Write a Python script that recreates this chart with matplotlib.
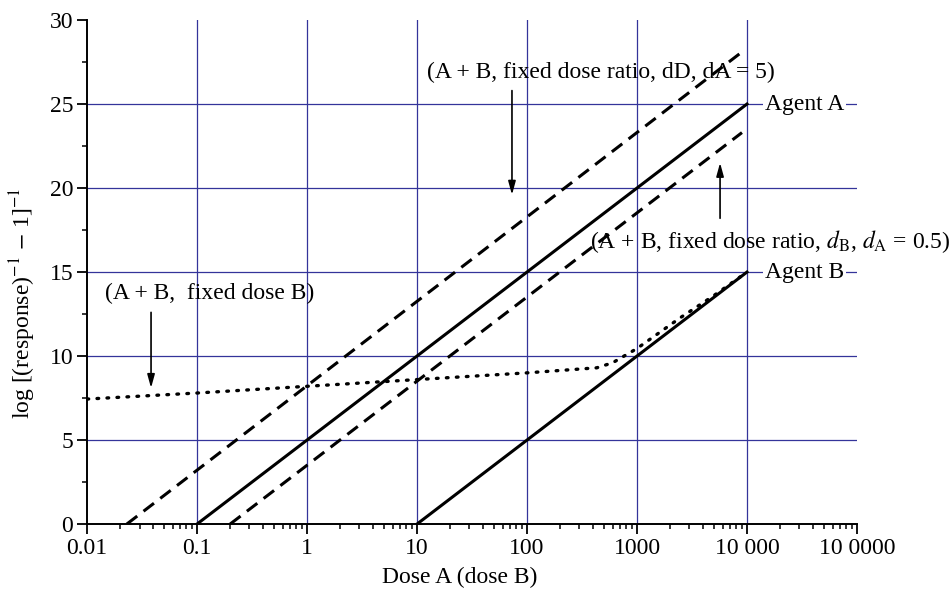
import numpy as np
from matplotlib import pyplot as plt

plt.rcParams['font.family'] = ['Liberation Serif', 'DejaVu Serif']
plt.rcParams['mathtext.fontset'] = 'stix'

# data
agent_a_x = [0.1, 10000]
agent_a_y = [0, 25]
agent_b_x = [10, 10000]
agent_b_y = [0, 15]
ratio5_x = [0.023, 9000]
ratio5_y = [0, 28.1]
ratio05_x = [0.2, 9000]
ratio05_y = [0, 23.3]
fixed_b_x = [0.01, 0.1, 1, 10, 100, 430, 600, 1000, 2500, 5000, 10000]
fixed_b_y = [7.44, 7.8, 8.2, 8.6, 9.0, 9.3, 9.6, 10.45, 12.3, 13.6, 15]

x_ticks = [0.01, 0.1, 1, 10, 100, 1000, 10000, 100000]
x_tick_labels = ['0.01', '0.1', '1', '10', '100', '1000', '10 000', '10 0000']
y_ticks = [0, 5, 10, 15, 20, 25, 30]
grid_x = [0.1, 1, 10, 100, 1000, 10000]
grid_y = [5, 10, 15, 20, 25]

fig = plt.figure(figsize=(9.5, 6.01), dpi=100)
ax = fig.add_axes([0.0916, 0.128, 0.8105, 0.8387])
ax.set_xscale('log')
ax.set_xlim(0.01, 100000)
ax.set_ylim(0, 30)

grid_col = '#34349a'
for gx in grid_x:
    ax.axvline(gx, color=grid_col, lw=0.9, zorder=1)
for gy in grid_y:
    ax.axhline(gy, color=grid_col, lw=0.9, zorder=1)

ax.plot(agent_a_x, agent_a_y, color='black', lw=2.2, zorder=3)
ax.plot(agent_b_x, agent_b_y, color='black', lw=2.2, zorder=3)
ax.plot(ratio5_x, ratio5_y, color='black', lw=2.2, dashes=(4.3, 2.6), zorder=3)
ax.plot(ratio05_x, ratio05_y, color='black', lw=2.2, dashes=(4.3, 2.6), zorder=3)
ax.plot(fixed_b_x, fixed_b_y, color='black', lw=2.4, dashes=(0.5, 2.5),
        dash_capstyle='round', zorder=3)

fs = 17
box = dict(facecolor='white', edgecolor='none', pad=1.5)
ax.text(14500, 25, 'Agent A', fontsize=fs, va='center', ha='left', bbox=box, zorder=4,
        clip_on=False)
ax.text(14500, 15, 'Agent B', fontsize=fs, va='center', ha='left', bbox=box, zorder=4,
        clip_on=False)
ax.text(12.3, 26.9, '(A + B, fixed dose ratio, dD, dA = 5)', fontsize=fs,
        va='center', ha='left', zorder=4)
ax.text(374, 16.8, r'(A + B, fixed dose ratio, $d_{\mathrm{B}}$, $d_{\mathrm{A}}$ = 0.5)',
        fontsize=fs, va='center', ha='left', zorder=4, clip_on=False)
ax.text(0.0146, 13.75, '(A + B,  fixed dose B)', fontsize=fs, va='center', ha='left',
        zorder=4)

arrow = dict(arrowstyle='-|>,head_length=0.8,head_width=0.22', color='black', lw=1.2,
             shrinkA=0, shrinkB=0)
ax.annotate('', xy=(73, 19.6), xytext=(73, 25.8), arrowprops=arrow)
ax.annotate('', xy=(5690, 21.5), xytext=(5690, 18.2), arrowprops=arrow)
ax.annotate('', xy=(0.0382, 8.1), xytext=(0.0382, 12.6), arrowprops=arrow)

ax.set_xticks(x_ticks)
ax.set_xticklabels(x_tick_labels)
ax.set_yticks(y_ticks)
ax.set_yticks(np.arange(2.5, 30, 5), minor=True)
ax.tick_params(which='major', direction='out', length=7, width=1.3, labelsize=fs,
               pad=3)
ax.tick_params(which='minor', direction='out', length=3.5, width=1.1)
ax.tick_params(axis='x', which='minor', labelbottom=False)

for s in ['top', 'right']:
    ax.spines[s].set_visible(False)
for s in ['left', 'bottom']:
    ax.spines[s].set_linewidth(1.4)
    ax.spines[s].set_zorder(5)

ax.set_xlabel('Dose A (dose B)', fontsize=fs)
ax.xaxis.set_label_coords(0.484, -0.085)
ax.set_ylabel(r'log [(response)$^{-1}$ $-$ 1]$^{-1}$', fontsize=fs)
ax.yaxis.set_label_coords(-0.064, 0.437)

fig.savefig('out.png', dpi=100)
